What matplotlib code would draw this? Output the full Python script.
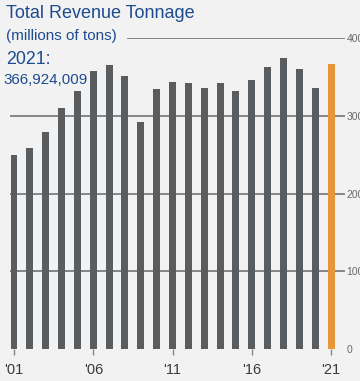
import matplotlib.pyplot as plt
import numpy as np

# Annual revenue tonnage, millions of tons
years = list(range(2001, 2022))
tonnage = [250, 259, 279, 310, 332, 357, 365, 351, 292, 334, 343,
           342, 336, 342, 332, 346, 363, 374, 360, 336, 366.924009]
tick_years = [2001, 2006, 2011, 2016, 2021]
grid_values = [100, 200, 300, 400]

bg = '#f2f2f2'
bar_color = '#5a5d60'
highlight = '#e8963a'
blue = '#1d4b8f'
grid_color = '#858585'

W, H = 360, 381
fig = plt.figure(figsize=(W / 100, H / 100), dpi=100, facecolor=bg)
plt.rcParams['font.family'] = ['Liberation Sans', 'DejaVu Sans']

# axes placed in pixel terms: x 10..345, y 38(=400)..349(=0)
ax = fig.add_axes([10 / W, (H - 349) / H, 335 / W, (349 - 38) / H])
ax.set_facecolor(bg)

x = np.arange(len(years))
colors = [bar_color] * (len(years) - 1) + [highlight]

# gridlines (the top one starts after the subtitle)
for v in grid_values:
    start = (128 - 10) / 335 if v == 400 else 0
    ax.axhline(v, xmin=start, xmax=1, color=grid_color, lw=1.4, zorder=1)

ax.bar(x, tonnage, width=0.44, color=colors, zorder=2)

ax.set_xlim(-0.252, 20.88)
ax.set_ylim(0, 400)

ax.set_xticks([years.index(y) for y in tick_years])
ax.set_xticklabels(["'" + str(y)[2:] for y in tick_years])
ax.tick_params(axis='x', length=4, width=1, color=grid_color, pad=6,
               labelsize=10.5, labelcolor='#3a3a3a')

ax.yaxis.tick_right()
ax.set_yticks([0] + grid_values)
ax.set_yticklabels(['0'] + [str(v) for v in grid_values])
ax.tick_params(axis='y', length=0, pad=1, labelsize=7.5, labelcolor='#6a6a6a')

for s in ax.spines.values():
    s.set_visible(False)

fig.text(6 / W, 1 - 14 / H, 'Total Revenue Tonnage', color=blue,
         fontsize=13, va='center', ha='left')
fig.text(6 / W, 1 - 36 / H, '(millions of tons)', color=blue,
         fontsize=11, va='center', ha='left')
fig.text(6 / W, 1 - 60 / H, '2021:', color=blue,
         fontsize=12.8, va='center', ha='left')
fig.text(3 / W, 1 - 80 / H, '{:,}'.format(int(round(tonnage[-1] * 1e6))),
         color=blue, fontsize=10.9, va='center', ha='left')

fig.savefig('out.png', dpi=100, facecolor=bg)
